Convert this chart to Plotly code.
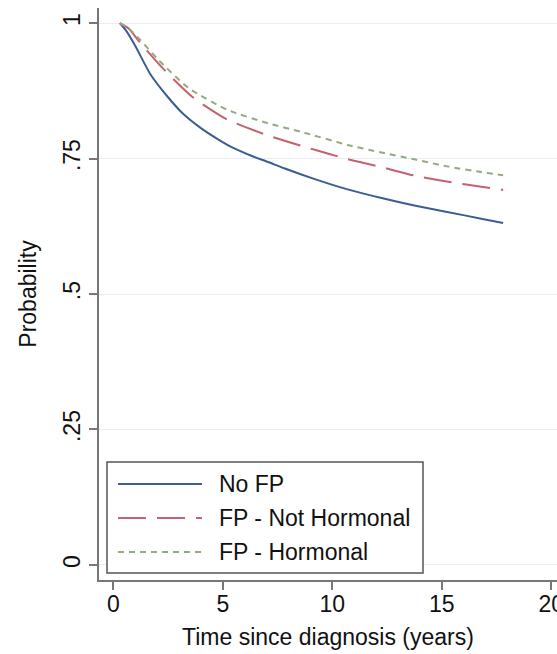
import plotly.graph_objects as go

# ---- data ----
t_nofp = [0.3, 0.6, 1.0, 1.7, 2.5, 3.2, 4.0, 4.8, 5.5, 6.3, 7.1, 7.8, 9.2, 10.7, 12.25, 13.8, 15.3, 16.8, 17.8]
p_nofp = [1.0, 0.985, 0.958, 0.905, 0.863, 0.832, 0.806, 0.785, 0.769, 0.755, 0.743, 0.732, 0.712, 0.693, 0.677, 0.663, 0.651, 0.639, 0.631]

t_nothorm = [0.3, 0.7, 1.2, 2.2, 3.6, 5.2, 7.1, 9.2, 10.7, 12.25, 13.8, 15.3, 16.8, 17.8]
p_nothorm = [1.0, 0.99, 0.965, 0.919, 0.864, 0.822, 0.792, 0.766, 0.749, 0.734, 0.718, 0.707, 0.698, 0.692]

t_horm = [0.3, 0.7, 1.2, 2.06, 3.44, 5.2, 7.06, 8.6, 10.7, 12.25, 13.8, 15.3, 16.8, 17.8]
p_horm = [1.0, 0.99, 0.97, 0.932, 0.880, 0.840, 0.815, 0.799, 0.775, 0.761, 0.748, 0.735, 0.725, 0.719]

series_names = ["No FP", "FP - Not Hormonal", "FP - Hormonal"]
x_ticks = [0, 5, 10, 15, 20]
y_ticks = [0, 0.25, 0.5, 0.75, 1]
y_ticktext = ["0", ".25", ".5", ".75", "1"]

# ---- styles ----
W, H = 557, 654
ML, MT, MR, MB = 99, 8, 0, 74
colors = ["#3b5d93", "#c6616f", "#93ab83"]
dashes = ["solid", "28px,11px", "6px,5px"]
FONT = "Liberation Sans, Arial, sans-serif"
FS = 23

fig = go.Figure()
for t, p, name, c, d in zip([t_nofp, t_nothorm, t_horm], [p_nofp, p_nothorm, p_horm],
                            series_names, colors, dashes):
    fig.add_trace(go.Scatter(x=t, y=p, mode="lines", name=name,
                             line=dict(color=c, width=2, dash=d, shape="spline", smoothing=0.6),
                             showlegend=False))

pw = W - ML - MR
ph = H - MT - MB
def px(x):
    return (x - ML) / pw
def py(y):
    return (H - MB - y) / ph

shapes = []
annotations = []
# legend box
shapes.append(dict(type="rect", xref="paper", yref="paper",
                   x0=px(107), x1=px(423), y0=py(573), y1=py(462),
                   line=dict(color="#555555", width=1.5), fillcolor="white", layer="above"))
rows = [484, 518, 552]
for yy, name, c, d in zip(rows, series_names, colors, dashes):
    shapes.append(dict(type="line", xref="paper", yref="paper",
                       x0=px(118), x1=px(202), y0=py(yy), y1=py(yy),
                       line=dict(color=c, width=2, dash=d), layer="above"))
    annotations.append(dict(xref="paper", yref="paper", x=px(217), y=py(yy),
                            xanchor="left", yanchor="middle", text=name, showarrow=False,
                            font=dict(family=FONT, size=FS, color="#111111")))

fig.update_layout(
    width=W, height=H,
    margin=dict(l=ML, r=MR, t=MT, b=MB, autoexpand=False),
    paper_bgcolor="white", plot_bgcolor="white",
    font=dict(family=FONT, size=FS, color="#111111"),
    shapes=shapes, annotations=annotations,
    xaxis=dict(range=[-0.653, 20.26], tickvals=x_ticks, showgrid=False, zeroline=False,
               showline=True, linecolor="#777777", linewidth=1.5,
               ticks="outside", ticklen=8, tickcolor="#777777", tickwidth=1.5,
               ticklabeloverflow="allow", ticklabelstandoff=-5,
               title=dict(text="Time since diagnosis (years)", standoff=13,
                          font=dict(family=FONT, size=FS, color="#111111")),
               tickfont=dict(size=FS)),
    yaxis=dict(range=[-0.0277, 1.0277], tickvals=y_ticks, ticktext=y_ticktext,
               showgrid=True, gridcolor="#e9eef1", gridwidth=1, zeroline=False,
               showline=True, linecolor="#777777", linewidth=1.5,
               ticks="outside", ticklen=8, tickcolor="#777777", tickwidth=1.5,
               tickangle=-90, tickfont=dict(size=FS),
               title=dict(text="Probability", standoff=16,
                          font=dict(family=FONT, size=FS, color="#111111"))),
)

fig.write_html("out.html")
